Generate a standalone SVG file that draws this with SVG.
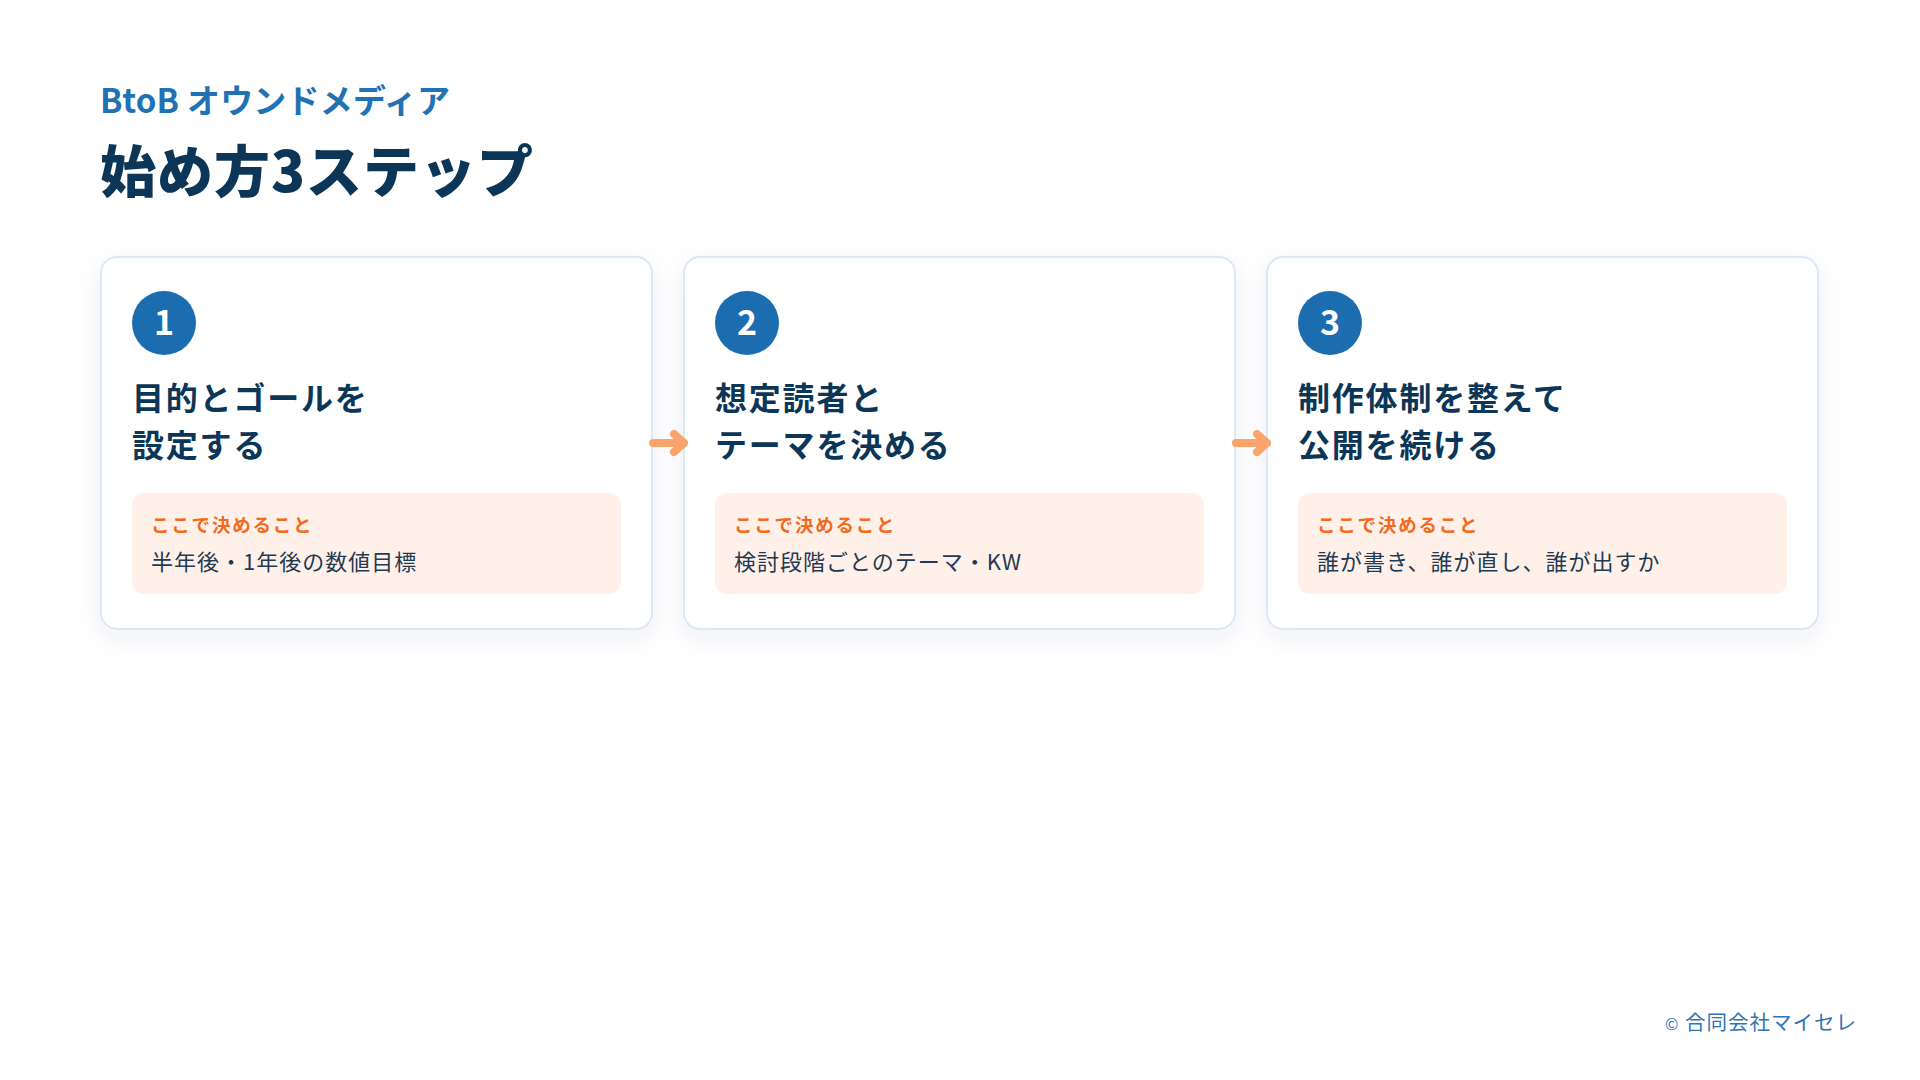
<svg xmlns="http://www.w3.org/2000/svg" width="1920" height="1080" viewBox="0 0 1920 1080">
<defs>
<filter id="sh" x="-10%" y="-10%" width="120%" height="130%">
<feDropShadow dx="0" dy="8" stdDeviation="12" flood-color="#1d4f8a" flood-opacity="0.07"/>
</filter>
<style>
text{font-family:"Noto Sans CJK JP","Noto Sans",sans-serif;}
.card{fill:#ffffff;stroke:#dce8f5;stroke-width:2;}
.badge{fill:#1c6cb0;}
.num{fill:#ffffff;font-size:34px;font-weight:700;text-anchor:middle;}
.ttl{fill:#0c3657;font-size:32px;font-weight:700;letter-spacing:1.8px;}
.box{fill:#fff1ea;}
.lbl{fill:#f26a1b;font-size:18.5px;font-weight:700;letter-spacing:1.8px;}
.body{fill:#1f3a52;font-size:22px;font-weight:400;letter-spacing:1px;}
.arrow{fill:none;stroke:#f9a46c;stroke-width:8;stroke-linecap:round;stroke-linejoin:round;}
</style>
</defs>
<rect width="1920" height="1080" fill="#ffffff"/>
<text x="100" y="113" font-size="33" font-weight="700" fill="#2171b5" letter-spacing="0.2">BtoB オウンドメディア</text>
<text x="100" y="192" font-size="56" font-weight="800" fill="#0c3657" letter-spacing="1">始め方3ステップ</text>

<g id="step1">
<rect class="card" x="101" y="257" width="551" height="372" rx="16" filter="url(#sh)"/>
<circle class="badge" cx="164" cy="323" r="32"/>
<text class="num" x="164" y="335">1</text>
<text class="ttl" x="132" y="410">目的とゴールを</text>
<text class="ttl" x="132" y="457">設定する</text>
<rect class="box" x="132" y="493" width="489" height="101" rx="12"/>
<text class="lbl" x="151" y="532">ここで決めること</text>
<text class="body" x="151" y="570">半年後・1年後の数値目標</text>
</g>

<g id="step2">
<rect class="card" x="684" y="257" width="551" height="372" rx="16" filter="url(#sh)"/>
<circle class="badge" cx="747" cy="323" r="32"/>
<text class="num" x="747" y="335">2</text>
<text class="ttl" x="715" y="410">想定読者と</text>
<text class="ttl" x="715" y="457">テーマを決める</text>
<rect class="box" x="715" y="493" width="489" height="101" rx="12"/>
<text class="lbl" x="734" y="532">ここで決めること</text>
<text class="body" x="734" y="570">検討段階ごとのテーマ・KW</text>
</g>

<g id="step3">
<rect class="card" x="1267" y="257" width="551" height="372" rx="16" filter="url(#sh)"/>
<circle class="badge" cx="1330" cy="323" r="32"/>
<text class="num" x="1330" y="335">3</text>
<text class="ttl" x="1298" y="410">制作体制を整えて</text>
<text class="ttl" x="1298" y="457">公開を続ける</text>
<rect class="box" x="1298" y="493" width="489" height="101" rx="12"/>
<text class="lbl" x="1317" y="532">ここで決めること</text>
<text class="body" x="1317" y="570">誰が書き、誰が直し、誰が出すか</text>
</g>

<g id="connectors">
<path class="arrow" d="M653 443 H684 M674 434 L684 443 L674 452"/>
<path class="arrow" d="M1236 443 H1267 M1257 434 L1267 443 L1257 452"/>
</g>

<text x="1857" y="1030" text-anchor="end" fill="#2f74b5" font-size="20.5" letter-spacing="1"><tspan font-size="16">©</tspan> 合同会社マイセレ</text>
</svg>
